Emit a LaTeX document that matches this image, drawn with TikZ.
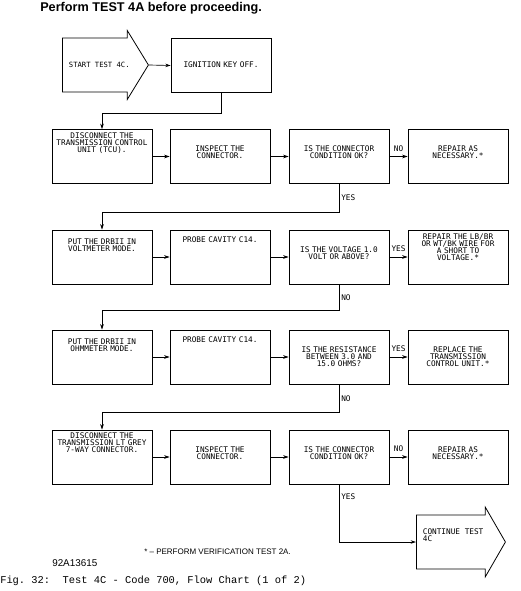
\documentclass[tikz,border=0pt]{standalone}
\usepackage{fontspec}
\setmainfont{Liberation Sans}
\setmonofont{Liberation Mono}
\newfontfamily\plotfont{DejaVu Sans Mono}
\usetikzlibrary{arrows.meta, shapes.arrows}

\begin{document}
\begin{tikzpicture}[x=0.75pt, y=-0.75pt,
    box/.style={draw, line width=0.6pt, minimum width=75pt, minimum height=40.5pt,
                inner sep=0pt, text width=72pt, align=center,
                font=\plotfont\fontsize{5.8}{5.3}\selectfont,
                text height=#1, text depth={40.5pt-#1}},
    box/.default=16.5pt,
    go/.style={draw, line width=0.6pt, single arrow, single arrow head extend=6pt,
               inner xsep=0pt, inner ysep=0pt, font=\plotfont\fontsize{5.8}{5.3}\selectfont},
    lbl/.style={font=\plotfont\fontsize{5.8}{5.3}\selectfont, inner sep=1.5pt},
    arr/.style={-{Stealth[length=4pt, width=2.6pt]}, line width=0.5pt}]
  \useasboundingbox (0,0) rectangle (520,591);

  \node[anchor=west, inner sep=0pt, font=\bfseries\fontsize{9.5}{11}\selectfont] (title) at (40,8) {Perform TEST 4A before proceeding.};

  \node[go, minimum height=64.5pt, single arrow head extend=5.6pt, text height=21.9pt, text depth=17.9pt,
        font=\plotfont\fontsize{5.4}{5.3}\selectfont, single arrow tip angle=117, anchor=tail] (start) at (62,65) {\ START TEST 4C.};
  \node[box=22pt] (ign) at (221,65.5) {IGNITION KEY OFF.};
  \draw[arr] (start.tip) -- (ign.west);

  \node[box=6.5pt] (b11) at (102,156.5) {DISCONNECT THE\\TRANSMISSION CONTROL\\UNIT (TCU).};
  \node[box] (b12) at (220,156.5) {INSPECT THE\\CONNECTOR.};
  \node[box] (b13) at (339,156.5) {IS THE CONNECTOR\\CONDITION OK?};
  \node[box] (b14) at (458,156.5) {REPAIR AS\\NECESSARY.*};
  \draw[arr] (ign.south) -- ++(0,20) -| (b11.north);
  \draw[arr] (b11) -- (b12);
  \draw[arr] (b12) -- (b13);
  \draw[arr] (b13) -- node[lbl, above=2pt] {NO} (b14);

  \node[box=10.5pt] (b21) at (102,257) {PUT THE DRBII IN\\VOLTMETER MODE.};
  \node[box=9.5pt] (b22) at (220,257) {PROBE CAVITY C14.};
  \node[box=17pt] (b23) at (339,257) {IS THE VOLTAGE 1.0\\VOLT OR ABOVE?};
  \node[box=7pt] (b24) at (458,257) {REPAIR THE LB/BR\\OR WT/BK WIRE FOR\\A SHORT TO\\VOLTAGE.*};
  \draw[arr] (b13.south) -- node[lbl, right] {YES} ++(0,28) -| (b21.north);
  \draw[arr] (b21) -- (b22);
  \draw[arr] (b22) -- (b23);
  \draw[arr] (b23) -- node[lbl, above=2pt] {YES} (b24);

  \node[box=11pt] (b31) at (102,357) {PUT THE DRBII IN\\OHMMETER MODE.};
  \node[box=9.5pt] (b32) at (220,357) {PROBE CAVITY C14.};
  \node[box] (b33) at (339,357) {IS THE RESISTANCE\\BETWEEN 3.0 AND\\15.0 OHMS?};
  \node[box] (b34) at (458,357) {REPLACE THE\\TRANSMISSION\\CONTROL UNIT.*};
  \draw[arr] (b23.south) -- node[lbl, right] {NO} ++(0,26) -| (b31.north);
  \draw[arr] (b31) -- (b32);
  \draw[arr] (b32) -- (b33);
  \draw[arr] (b33) -- node[lbl, above=2pt] {YES} (b34);

  \node[box=6.5pt] (b41) at (102,457) {DISCONNECT THE\\TRANSMISSION LT GREY\\7-WAY CONNECTOR.};
  \node[box] (b42) at (220,457) {INSPECT THE\\CONNECTOR.};
  \node[box] (b43) at (339,457) {IS THE CONNECTOR\\CONDITION OK?};
  \node[box] (b44) at (458,457) {REPAIR AS\\NECESSARY.*};
  \draw[arr] (b33.south) -- node[lbl, right] {NO} ++(0,28) -| (b41.north);
  \draw[arr] (b41) -- (b42);
  \draw[arr] (b42) -- (b43);
  \draw[arr] (b43) -- node[lbl, above=2pt] {NO} (b44);

  \node[go, minimum height=66.75pt, single arrow tip angle=120, text height=19.5pt, text depth=20.3pt,
        inner xsep=1pt, anchor=tail, align=left] (cont) at (416,542) {CONTINUE TEST\\4C};
  \draw[arr] (b43.south) |- node[lbl, right, pos=0.11] {YES} (cont.tail);

  \node[anchor=west, inner sep=0pt, font=\fontsize{6}{7}\selectfont] (note) at (144,552) {* -- PERFORM VERIFICATION TEST 2A.};
  \node[anchor=west, inner sep=0pt, font=\fontsize{7.4}{9}\selectfont] (code) at (52,563) {92A13615};
  \node[anchor=west, inner sep=0pt, font=\ttfamily\frenchspacing\fontsize{7.8}{9}\selectfont] (fig) at (0,581) {Fig. 32:\ \ Test 4C - Code 700, Flow Chart (1 of 2)};
\end{tikzpicture}
\end{document}
